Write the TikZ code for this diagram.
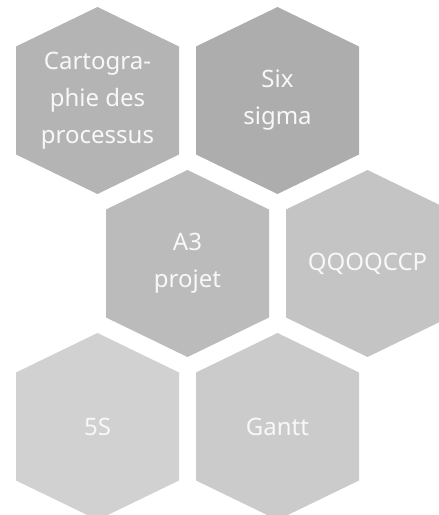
\documentclass[tikz,border=0pt]{standalone}
\usepackage{fontspec}
\setmainfont{Noto Sans}
\definecolor{cellA}{HTML}{B4B4B4}
\definecolor{cellB}{HTML}{ADADAD}
\definecolor{cellC}{HTML}{BBBBBB}
\definecolor{cellD}{HTML}{C4C4C4}
\definecolor{cellE}{HTML}{D1D1D1}
\definecolor{cellF}{HTML}{CBCBCB}
\definecolor{celltext}{HTML}{F8F8F8}
\tikzset{
  hexcell/.style={
    minimum width=165pt, minimum height=189pt, inner sep=0pt,
    align=center, text=celltext,
    font=\fontsize{24pt}{37pt}\selectfont,
    path picture={
      \fill[#1] (path picture bounding box.center)
        ++(0,93.5pt) -- ++(81.5pt,-39.5pt) -- ++(0,-108pt)
        -- ++(-81.5pt,-39.5pt) -- ++(-81.5pt,39.5pt) -- ++(0,108pt) -- cycle;
    }
  }
}
\begin{document}
\begin{tikzpicture}[x=1pt,y=1pt]
  \useasboundingbox (0,0) rectangle (439,515);
  % top row
  \node[hexcell=cellA] (carto) at (97.5,414.5) {Cartogra-\\phie des\\processus};
  \node[hexcell=cellB] (sixsigma) at (277.5,414.5) {Six\\sigma};
  % middle row
  \node[hexcell=cellC] (athree) at (187.5,251.5) {A3\\projet};
  \node[hexcell=cellD] (qqoqccp) at (367.5,251.5) {QQOQCCP};
  % bottom row
  \node[hexcell=cellE] (fives) at (97.5,88.5) {5S};
  \node[hexcell=cellF] (gantt) at (277.5,88.5) {Gantt};
\end{tikzpicture}
\end{document}
